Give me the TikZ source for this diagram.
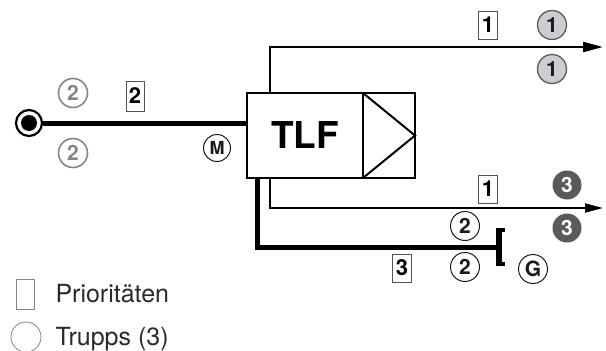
\documentclass[tikz,border=0pt]{standalone}
\usepackage{fontspec}
\setmainfont{TeX Gyre Heros}
\usetikzlibrary{arrows.meta,positioning,shapes.geometric,calc}
\definecolor{Ink}{HTML}{1A1A1A}
\definecolor{Muted}{HTML}{858585}
\definecolor{SoftGrey}{HTML}{CDCDD1}
\definecolor{DarkGrey}{HTML}{5A5A5D}
\definecolor{LegendText}{HTML}{2A2A2A}

\begin{document}
\begin{tikzpicture}[
  x=1pt,y=-1pt,
  trupp/.style={circle,inner sep=0pt,minimum size=29pt,font=\fontsize{21}{21}\selectfont\bfseries},
  truppsoft/.style={trupp,draw=DarkGrey,fill=SoftGrey,line width=1.3pt,text=Ink},
  truppdark/.style={trupp,fill=DarkGrey,text=white},
  truppmuted/.style={trupp,draw=Muted,line width=1.6pt,text=Muted},
  truppink/.style={trupp,draw=Ink,line width=1pt,text=Ink},
  prio/.style={rectangle,draw=Ink!75,line width=0.8pt,inner sep=0pt,minimum width=19pt,minimum height=28pt,font=\fontsize{22}{22}\selectfont\bfseries},
  unit/.style={rectangle,draw,line width=2.5pt,fill=white,outer sep=0pt,inner sep=0pt,minimum height=85pt},
  hose/.style={line width=5pt,draw=black},
  feed/.style={line width=2.5pt,-{Triangle[length=20pt,width=10pt]}},
  feedthin/.style={line width=2pt,-{Triangle[length=18pt,width=9pt]}},
  legend/.style={anchor=base west,text=LegendText,font=\fontsize{25}{25}\selectfont}
]
\useasboundingbox (0,0) rectangle (606,351);
% unit and pump
\node[unit,minimum width=116pt,font=\fontsize{37}{37}\selectfont\bfseries] (tlf) at (305,135.5) {TLF};
\node[unit,minimum width=52pt,right=0pt of tlf] (pump) {};
\draw[line width=2pt] (pump.north west) -- (pump.east) -- (pump.south west);
% water source
\node[circle,draw,line width=2.2pt,fill=white,minimum size=26pt,inner sep=0pt] (src) at (29,123) {};
\fill (src.center) circle[radius=8pt];
\coordinate (topend) at (603,47);
\coordinate (lowend) at (603,208);
\coordinate (coupling) at (499,247);
\draw[hose] (src.east) -- (src -| tlf.west);
\draw[feed] ([xshift=23pt]tlf.north west) |- (topend);
\draw[feedthin] ([xshift=23pt]tlf.south west) |- (lowend);
\draw[hose] ([xshift=10pt]tlf.south west) |- (coupling);
% coupling
\draw[line width=6pt] ($(coupling)+(0,-19)$) -- ($(coupling)+(0,19)$);
\draw[line width=4pt] ($(coupling)+(-3,-17)$) -- ($(coupling)+(6,-17)$);
\draw[line width=4pt] ($(coupling)+(-3,17)$) -- ($(coupling)+(6,17)$);
% priorities and crews
\node[prio] (p1top) at (488,25) {1};
\node[truppsoft] (t1a) at (552,25) {1};
\node[truppsoft] (t1b) at (552,69) {1};
\node[truppmuted] (t2a) at (73,93) {2};
\node[truppmuted] (t2b) at (73,153) {2};
\node[prio,minimum width=18pt,minimum height=30pt] (p2) at (135,96) {2};
\node[truppink,minimum size=27pt,font=\fontsize{18}{18}\selectfont\bfseries] (mach) at (217,148) {M};
\node[prio] (p1low) at (488,189) {1};
\node[truppdark] (t3a) at (567,185) {3};
\node[truppdark] (t3b) at (567,228) {3};
\node[truppink] (t2c) at (465,226) {2};
\node[truppink] (t2d) at (465,267) {2};
\node[prio] (p3) at (402,268) {3};
\node[truppink] (gen) at (533,269) {G};
% legend
\node[rectangle,draw=Muted,line width=0.8pt,inner sep=0pt,minimum width=18pt,minimum height=30pt] (legprio) at (25,294) {};
\node[legend] (legpriotext) at (52,302) {Prioritäten};
\node[circle,draw=Muted,line width=0.8pt,inner sep=0pt,minimum size=30pt] (legtrupp) at (26,337) {};
\node[legend] (legtrupptext) at (52,345) {Trupps (3)};
\end{tikzpicture}
\end{document}
